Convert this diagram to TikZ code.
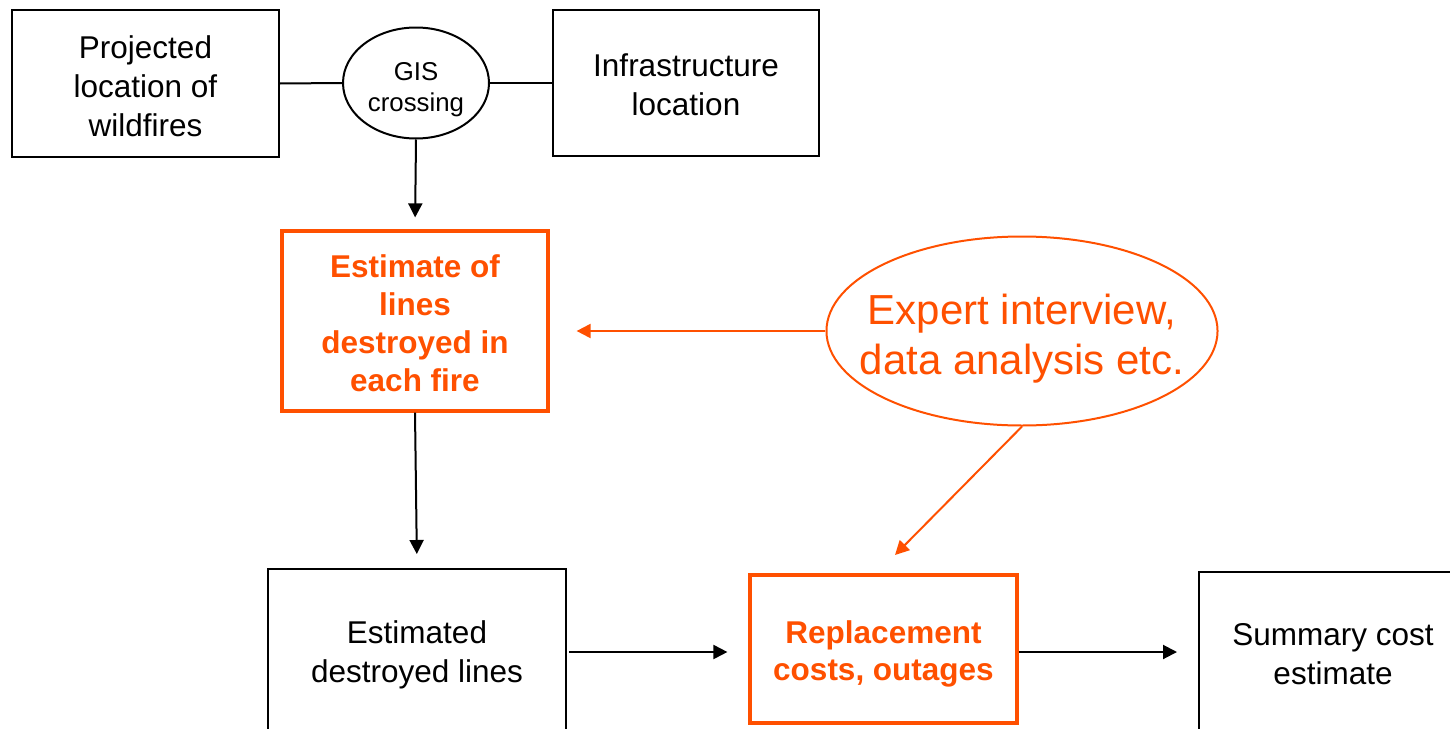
\documentclass[tikz,border=0pt]{standalone}
\usepackage{fontspec}
\setmainfont{Liberation Sans}
\usetikzlibrary{arrows.meta,shapes.geometric}
\definecolor{fireorange}{RGB}{255,80,0}
\newcommand{\dtext}[2]{\raisebox{-#1}[\dimexpr\height+#1\relax][\dimexpr\depth+#1\relax]{\begin{tabular}{@{}c@{}}#2\end{tabular}}}
\begin{document}
\begin{tikzpicture}[x=0.5pt,y=-0.5pt,
  plainbox/.style={draw=black,line width=1pt,inner sep=0pt,
    font=\fontsize{15.75}{19.4}\selectfont},
  hotbox/.style={draw=fireorange,line width=1.6pt,inner sep=0pt,
    text=fireorange,font=\fontsize{15.75}{18.9}\selectfont\bfseries},
  conn/.style={line width=1pt,draw=black},
  arr/.style={line width=1pt,draw=black,-{Triangle[length=7pt,width=7pt]}},
  oarr/.style={line width=1pt,draw=fireorange,-{Triangle[length=7pt,width=7pt]}}
]
\useasboundingbox (0,0) rectangle (1450,728);
\clip (0,0) rectangle (1450,728);

\node[plainbox,minimum width=133.5pt,minimum height=73.5pt] (proj) at (145.5,83.5)
  {\dtext{3pt}{Projected\\location of\\wildfires}};
\node[draw=black,line width=1pt,ellipse,inner sep=0pt,minimum width=73pt,minimum height=55.5pt,
  font=\fontsize{12.9}{15.5}\selectfont] (gis) at (416,83)
  {\dtext{3.5pt}{GIS\\crossing}};
\node[plainbox,minimum width=133pt,minimum height=73pt] (infra) at (686,83)
  {\dtext{2.5pt}{Infrastructure\\location}};

\node[hotbox,minimum width=133pt,minimum height=90pt] (est) at (415,321)
  {\dtext{3pt}{Estimate of\\lines\\destroyed in\\each fire}};

\node[draw=fireorange,line width=1pt,ellipse,inner xsep=-12pt,inner ysep=0pt,minimum width=192.5pt,minimum height=94.5pt,
  text=fireorange,font=\fontsize{21}{25}\selectfont] (expert) at (1022,331)
  {\dtext{4pt}{Expert interview,\\data analysis etc.}};

\node[plainbox,minimum width=149pt,minimum height=83pt] (lines) at (417,652)
  {\dtext{1.75pt}{Estimated\\destroyed lines}};
\node[hotbox,minimum width=133.5pt,minimum height=74pt] (repl) at (883.5,649)
  {\dtext{2.75pt}{Replacement\\costs, outages}};
\node[plainbox,minimum width=134pt,minimum height=81pt] (summ) at (1333,653)
  {\dtext{2pt}{Summary cost\\estimate}};

\coordinate (tipA) at (895,555);

\draw[conn] (proj.east) -- (gis.west);
\draw[conn] (gis.east) -- (infra.west);
\draw[arr,shorten >=6pt] (gis.south) -- (est.north);
\draw[arr,shorten >=7pt] (est.south) -- (lines.north);
\draw[arr,shorten <=1pt,shorten >=10.5pt] (lines.east) -- (lines.east -| repl.west);
\draw[arr,shorten >=10.5pt] (repl.east |- lines.east) -- (lines.east -| summ.west);
\draw[oarr,shorten >=13.5pt] (expert.west) -- (expert.west -| est.east);
\draw[oarr] (expert.south) -- (tipA);
\end{tikzpicture}
\end{document}
